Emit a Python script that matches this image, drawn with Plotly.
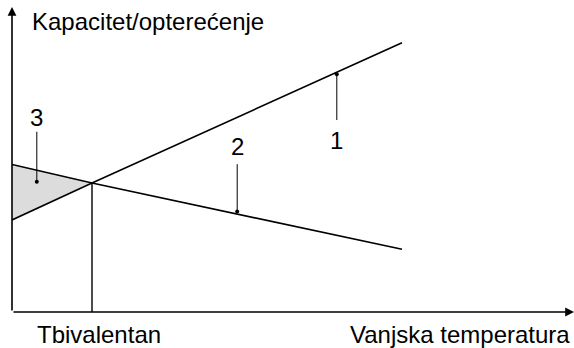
import plotly.graph_objects as go

# schematic values (arbitrary units): outdoor temperature vs capacity / load
temp = [0, 2, 9.75]
capacity = [3.07, 4.3, 8.98]      # 1 - heat pump capacity
load = [4.92, 4.3, 2.09]          # 2 - building heat load
t_bivalent = 2
shade_x = [0, 0, 2]               # 3 - area covered by extra heater
shade_y = [3.07, 4.92, 4.3]

# numbered callouts: dot on the curve, top/bottom of leader, text position
label_text = ["1", "2", "3"]
label_x = [8.12, 5.63, 0.62]
dot_y = [7.93, 3.35, 4.34]
leader_end_y = [6.4, 4.93, 6.01]
text_y = [5.72, 5.53, 6.47]

x_max = 14.05
y_max = 10.17

font = dict(family="Liberation Sans, Arial, sans-serif", size=24, color="black")

fig = go.Figure()

fig.add_trace(go.Scatter(
    x=shade_x, y=shade_y, fill="toself", fillcolor="#dcdcdc",
    line=dict(width=0), mode="lines", hoverinfo="skip",
))
fig.add_trace(go.Scatter(x=temp, y=capacity, mode="lines",
                         line=dict(color="black", width=1.6)))
fig.add_trace(go.Scatter(x=temp, y=load, mode="lines",
                         line=dict(color="black", width=1.6)))
fig.add_trace(go.Scatter(x=[t_bivalent, t_bivalent], y=[0, capacity[1]], mode="lines",
                         line=dict(color="black", width=1.4)))

for lx, dy, ly in zip(label_x, dot_y, leader_end_y):
    fig.add_trace(go.Scatter(x=[lx, lx], y=[dy, ly], mode="lines",
                             line=dict(color="black", width=1)))
fig.add_trace(go.Scatter(x=label_x, y=dot_y, mode="markers",
                         marker=dict(color="black", size=4)))

annotations = []
for txt, lx, ty in zip(label_text, label_x, text_y):
    annotations.append(dict(x=lx, y=ty, text=txt, showarrow=False, font=font,
                            xanchor="center", yanchor="middle"))

# axes drawn as arrows
annotations.append(dict(x=x_max, y=0, ax=0, ay=0, xref="x", yref="y", axref="x", ayref="y",
                        text="", showarrow=True, arrowhead=2, arrowsize=1.1,
                        arrowwidth=1.6, arrowcolor="black", standoff=0))
annotations.append(dict(x=0, y=y_max, ax=0, ay=0, xref="x", yref="y", axref="x", ayref="y",
                        text="", showarrow=True, arrowhead=2, arrowsize=1.1,
                        arrowwidth=1.6, arrowcolor="black", standoff=0))

annotations.append(dict(x=0.45, y=9.7, text="Kapacitet/opterećenje", showarrow=False,
                        font=font, xanchor="left", yanchor="middle"))
annotations.append(dict(x=t_bivalent + 0.17, y=-0.074, yref="paper", text="Tbivalentan",
                        showarrow=False, font=font, xanchor="center", yanchor="middle"))
annotations.append(dict(x=x_max - 0.05, y=-0.074, yref="paper", text="Vanjska temperatura",
                        showarrow=False, font=font, xanchor="right", yanchor="middle"))

fig.update_layout(
    width=574, height=348,
    margin=dict(l=12, r=0, t=7, b=36),
    paper_bgcolor="white", plot_bgcolor="white",
    showlegend=False,
    xaxis=dict(range=[0, x_max], visible=False, fixedrange=True),
    yaxis=dict(range=[0, y_max], visible=False, fixedrange=True),
    annotations=annotations,
)

fig.write_html("out.html", config={"displayModeBar": False},
               post_script="document.body.style.margin='0';")
